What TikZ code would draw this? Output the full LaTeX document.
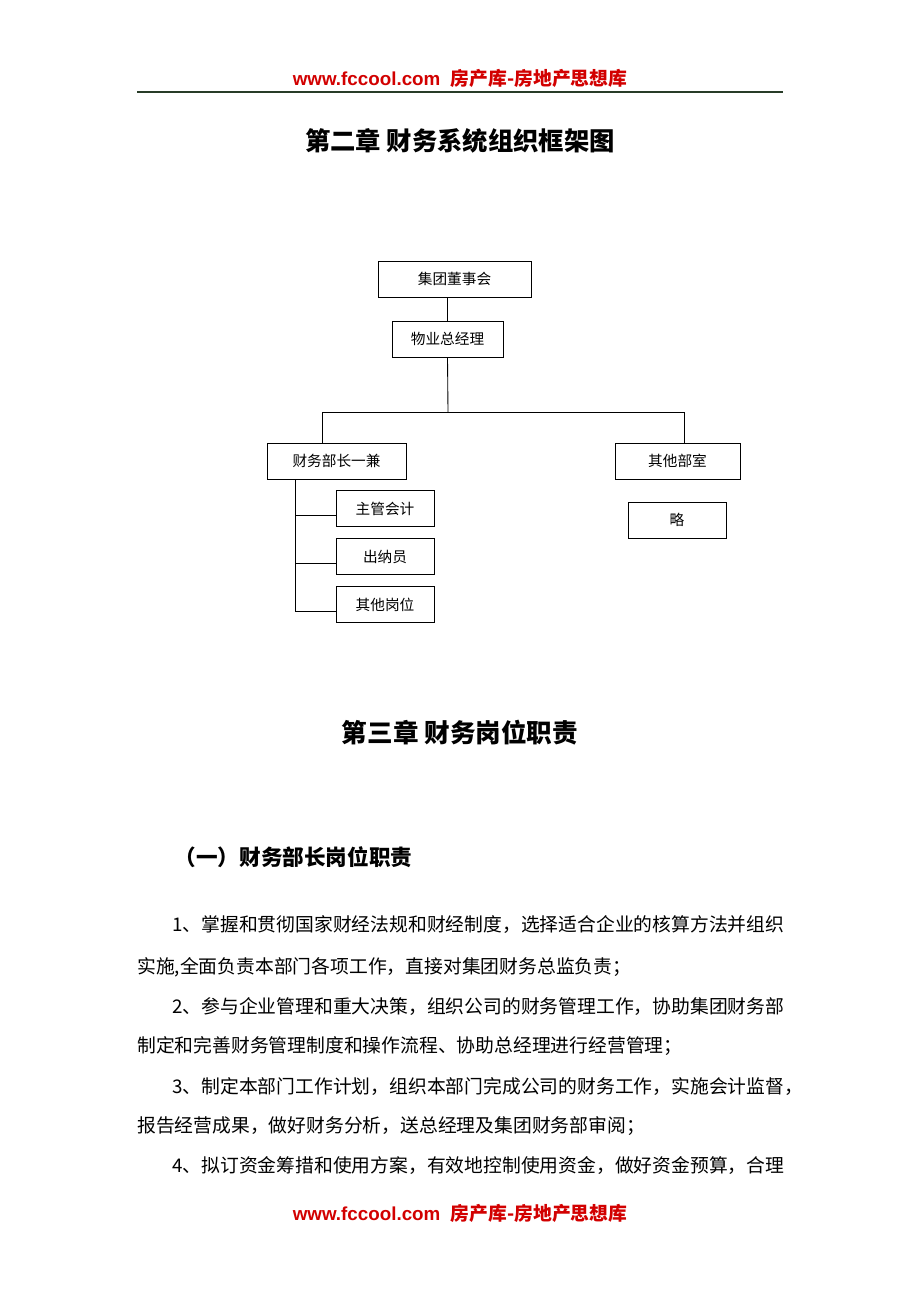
\documentclass[tikz,border=0pt]{standalone}
\usepackage{fontspec}
\setmainfont{Liberation Sans}
\newfontfamily\cjk{Noto Sans CJK SC}
\definecolor{hdr}{RGB}{210,0,0}
\definecolor{rule}{RGB}{40,60,40}
\begin{document}
\begin{tikzpicture}[x=0.75pt,y=-0.75pt,
  box/.style={draw,line width=0.65pt,minimum height=27pt,inner sep=0pt,font=\cjk\fontsize{11}{13}\selectfont},
  hd/.style={text=hdr,font=\bfseries\fontsize{14.1}{16}\selectfont},
  para/.style={anchor=west,inner sep=0pt,font=\cjk\fontsize{14.1}{16}\selectfont},
  ln/.style={line width=0.65pt}]
\useasboundingbox[fill=white] (0,0) rectangle (920,1302);
\node[hd] (h1) at (460,78) {www.fccool.com\ \ {\cjk 房产库-房地产思想库}};
\draw[line width=0.8pt,rule] (137,92) -- (783,92);
\node[hd] (h2) at (460,1213) {www.fccool.com\ \ {\cjk 房产库-房地产思想库}};
\node[font=\cjk\bfseries\fontsize{19}{21}\selectfont] (t1) at (460,141) {第二章\ 财务系统组织框架图};
\node[box,minimum width=114.75pt] (a) at (454.5,279) {集团董事会};
\node[box,minimum width=83.25pt] (b) at (447.5,339) {物业总经理};
\node[box,minimum width=104.25pt] (c) at (336.5,461) {财务部长一兼};
\node[box,minimum width=93.75pt] (d) at (677.5,461) {其他部室};
\node[box,minimum width=73.5pt] (e) at (677,520) {略};
\node[box,minimum width=73.5pt] (f) at (385,508.5) {主管会计};
\node[box,minimum width=73.5pt] (g) at (385,556.5) {出纳员};
\node[box,minimum width=73.5pt] (k) at (385,604.5) {其他岗位};
\coordinate (j) at (448,412);
\draw[ln] (a.south -| b.north) -- (b.north);
\draw[ln] (b.south) -- (j);
\draw[ln] (c.north -| 322,0) -- (322,412) -- (684,412) -- (684,0 |- d.north);
\draw[ln] (295,0 |- c.south) -- (295,611);
\draw[ln] (295,515) -- (f.west |- 0,515);
\draw[ln] (295,563) -- (g.west |- 0,563);
\draw[ln] (295,611) -- (k.west |- 0,611);
\node[font=\cjk\bfseries\fontsize{19.2}{21}\selectfont] (t2) at (460,733) {第三章\ 财务岗位职责};
\node[anchor=west,font=\cjk\bfseries\fontsize{16.2}{18}\selectfont] (t3) at (170,857) {（一）财务部长岗位职责};
\node[para] (p1) at (172,925) {1、掌握和贯彻国家财经法规和财经制度，选择适合企业的核算方法并组织};
\node[para] (p2) at (137,967) {实施,全面负责本部门各项工作，直接对集团财务总监负责；};
\node[para] (p3) at (172,1007) {2、参与企业管理和重大决策，组织公司的财务管理工作，协助集团财务部};
\node[para] (p4) at (137,1046) {制定和完善财务管理制度和操作流程、协助总经理进行经营管理；};
\node[para] (p5) at (172,1087) {3、制定本部门工作计划，组织本部门完成公司的财务工作，实施会计监督，};
\node[para] (p6) at (137,1126) {报告经营成果，做好财务分析，送总经理及集团财务部审阅；};
\node[para] (p7) at (172,1166) {4、拟订资金筹措和使用方案，有效地控制使用资金，做好资金预算，合理};
\end{tikzpicture}
\end{document}
